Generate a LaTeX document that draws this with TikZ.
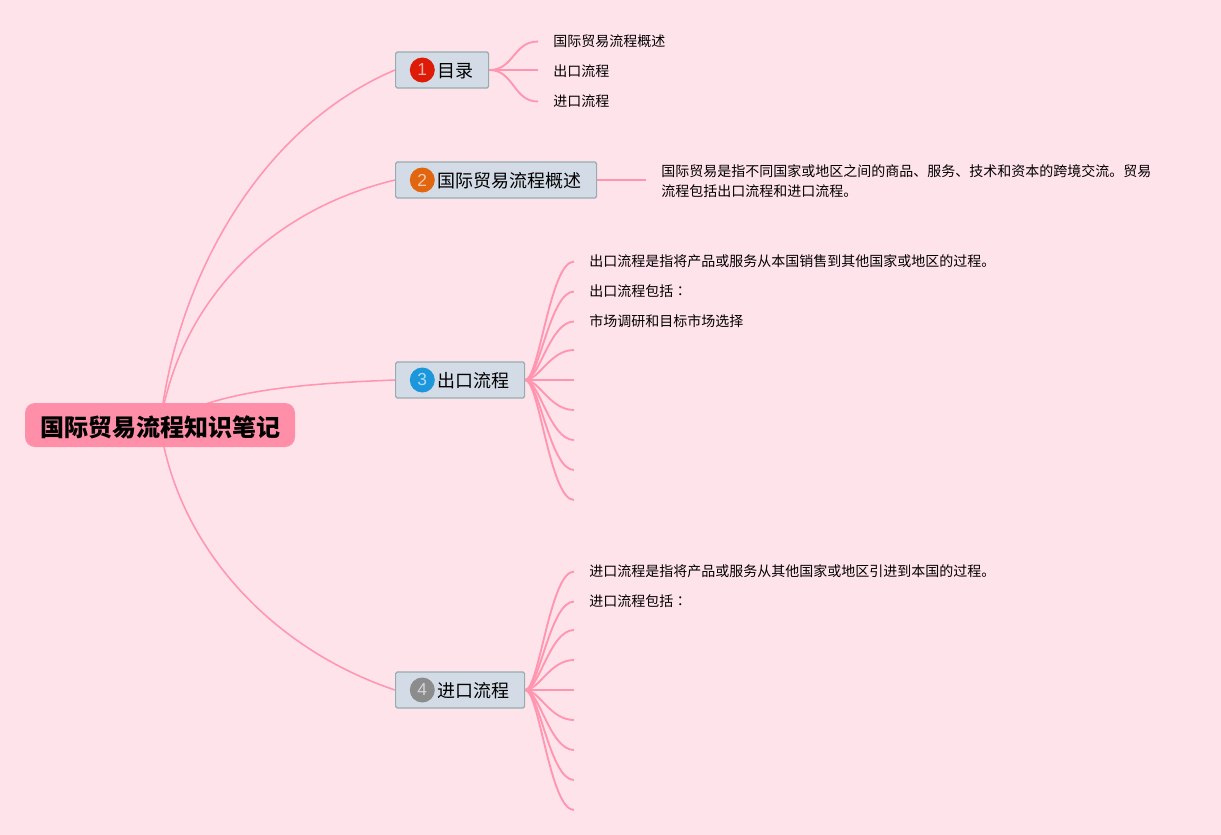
\documentclass[tikz,border=0pt]{standalone}
\usepackage{fontspec}
\setmainfont{Noto Sans CJK SC}
\newfontfamily\numfont{Liberation Sans}
\newfontfamily\colonfont{Noto Sans CJK TC}
\usepackage{xcolor}
\usepackage{tikz}
\usetikzlibrary{positioning,backgrounds}

\definecolor{bgpink}{HTML}{FFE3EB}
\definecolor{linepink}{HTML}{FF95AF}
\definecolor{rootpink}{HTML}{FF8FA8}
\definecolor{topicfill}{HTML}{D3DCE6}
\definecolor{topicline}{HTML}{94ADAD}

\tikzset{
  root/.style = {fill=rootpink, rounded corners=7.5pt, inner xsep=11.25pt, inner ysep=0pt, minimum height=33pt, text height=17pt, text depth=0.3pt, font=\fontsize{18}{18}\selectfont\bfseries},
  topic/.style = {draw=topicline, line width=0.9pt, fill=topicfill, rounded corners=1.2pt, anchor=west, inner xsep=11.25pt, inner ysep=0pt, minimum height=27pt, text height=12pt, text depth=0.24pt, font=\fontsize{13.5}{13.5}\selectfont},
  badge/.style = {circle, inner sep=0pt, minimum size=18.75pt, text=white, text opacity=0.65, font=\fontsize{13}{13}\numfont},
  leaf/.style = {anchor=west, inner xsep=11.25pt, inner ysep=0pt, yshift=-0.4pt, align=left, font=\fontsize{10.5}{15}\selectfont},
  branch/.style = {draw=linepink, line width=1.15pt},
  twig/.style = {draw=linepink, line width=1.4pt},
}

\begin{document}
\begin{tikzpicture}[x=0.75pt, y=-0.75pt]
        \node[root] (root) at (160,425) {国际贸易流程知识笔记};

        \node[topic] (t1) at (395,70) {\hspace*{20.25pt}目录};
        \node[topic] (t2) at (395,180) {\hspace*{20.25pt}国际贸易流程概述};
        \node[topic] (t3) at (395,380) {\hspace*{20.25pt}出口流程};
        \node[topic] (t4) at (395,690) {\hspace*{20.25pt}进口流程};

        \node[badge, fill={rgb,255:red,221;green,27;blue,6}, right=10.9pt of t1.west] (b1) {1};
        \node[badge, fill={rgb,255:red,226;green,101;blue,15}, right=10.9pt of t2.west] (b2) {2};
        \node[badge, fill={rgb,255:red,28;green,151;blue,220}, right=10.9pt of t3.west] (b3) {3};
        \node[badge, fill={rgb,255:red,140;green,140;blue,140}, right=10.9pt of t4.west] (b4) {4};

        \node[leaf] (l11) at (538,41) {国际贸易流程概述};
        \node[leaf] (l12) at (538,71) {出口流程};
        \node[leaf] (l13) at (538,101) {进口流程};

        \node[leaf] (l21) at (646,181) {国际贸易是指不同国家或地区之间的商品、服务、技术和资本的跨境交流。贸易\\流程包括出口流程和进口流程。};

        \node[leaf] (l31) at (574,261) {出口流程是指将产品或服务从本国销售到其他国家或地区的过程。};
        \node[leaf] (l32) at (574,291) {出口流程包括{\colonfont ：}};
        \node[leaf] (l33) at (574,321) {市场调研和目标市场选择};
        \coordinate (l34) at (574,350);
        \coordinate (l35) at (574,380);
        \coordinate (l36) at (574,410);
        \coordinate (l37) at (574,440);
        \coordinate (l38) at (574,470);
        \coordinate (l39) at (574,500);

        \node[leaf] (l41) at (574,571) {进口流程是指将产品或服务从其他国家或地区引进到本国的过程。};
        \node[leaf] (l42) at (574,601) {进口流程包括{\colonfont ：}};
        \coordinate (l43) at (574,630);
        \coordinate (l44) at (574,660);
        \coordinate (l45) at (574,690);
        \coordinate (l46) at (574,720);
        \coordinate (l47) at (574,750);
        \coordinate (l48) at (574,780);
        \coordinate (l49) at (574,810);

        \begin{scope}[on background layer]
          \fill[bgpink] (0,0) rectangle (1221,835);

          \draw[branch] (root.center) .. controls (178,270) and (265,125) .. (t1.west);
          \draw[branch] (root.center) .. controls (180,300) and (270,210) .. (t2.west);
          \draw[branch] (root.center) .. controls (212,392) and (290,384) .. (t3.west);
          \draw[branch] (root.center) .. controls (178,550) and (275,650) .. (t4.west);

          \foreach \n in {1,3}
            \draw[twig] (t1.east) .. controls +(25,0) and +(-25,0) .. (l1\n.west);
          \draw[twig] (t1.east) -- (t1.east -| l12.west);
          \draw[twig] (t2.east) -- (t2.east -| l21.west);
          \foreach \n in {1,2,3}
            \draw[twig] (t3.east) .. controls +(14,0) and +(-24,0) .. (l3\n.west);
          \foreach \n in {4,...,9}
            \draw[twig] (t3.east) .. controls +(14,0) and +(-24,0) .. (l3\n);
          \foreach \n in {1,2}
            \draw[twig] (t4.east) .. controls +(14,0) and +(-24,0) .. (l4\n.west);
          \foreach \n in {3,...,9}
            \draw[twig] (t4.east) .. controls +(14,0) and +(-24,0) .. (l4\n);
        \end{scope}
      \end{tikzpicture}
\end{document}
